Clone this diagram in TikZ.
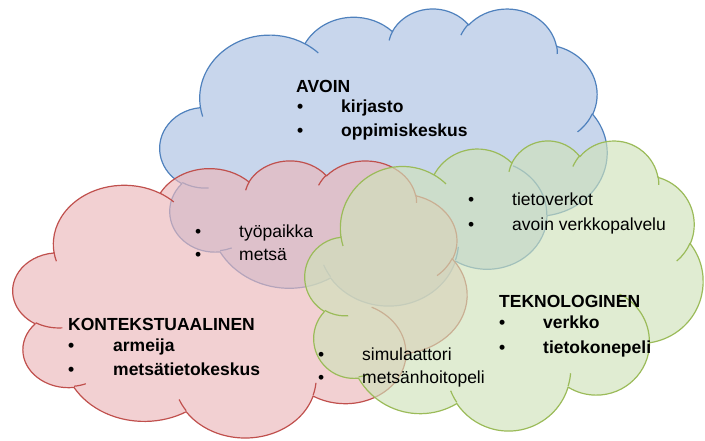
\documentclass[tikz,border=0pt]{standalone}
\usepackage{tikz}
\usepackage{fontspec}
\setmainfont{Liberation Sans}
\definecolor{avoinblue}{RGB}{79,129,189}
\definecolor{kontekstred}{RGB}{192,80,77}
\definecolor{teknogreen}{RGB}{155,187,89}
\definecolor{avoinfill}{RGB}{200,214,236}
\definecolor{kontekstfill}{RGB}{235,183,186}
\definecolor{teknofill}{RGB}{207,226,186}

% one arc of the cloud outline: name, x radius, y radius, start, sweep
\newcommand\defarc[5]{%
  \pgfmathsetmacro\arcsa{atan2(#2*sin(#4),#3*cos(#4))}%
  \pgfmathsetmacro\arcsb{atan2(#2*sin(#4+#5),#3*cos(#4+#5))}%
  \pgfmathsetmacro\arcsb{\arcsb<\arcsa ? \arcsb+360 : \arcsb}%
  \expandafter\xdef\csname pptarc#1\endcsname{arc[x radius=#2, y radius=#3, start angle=\arcsa, end angle=\arcsb]}%
}
\defarc{a}{6.753}{9.190}{-190.48748}{123.78053}
\defarc{b}{5.333}{7.267}{-144.10238}{89.94523}
\defarc{c}{4.365}{5.945}{-145.80792}{99.72302}
\defarc{d}{4.857}{6.595}{-130.98607}{117.24173}
\defarc{e}{5.333}{7.273}{-78.70888}{109.02692}
\defarc{f}{6.775}{9.220}{-46.26725}{130.26900}
\defarc{g}{5.785}{7.867}{0.62502}{114.03333}
\defarc{h}{6.752}{9.215}{22.45112}{115.17255}
\defarc{i}{7.720}{10.543}{66.24263}{75.71102}
\defarc{j}{4.360}{5.918}{-274.94208}{146.73557}
\defarc{k}{4.345}{5.945}{-246.82850}{152.51885}
% small inner curls
\defarc{ha}{4.345}{5.945}{86.7420}{26.4295}
\defarc{hb}{4.360}{5.918}{73.6105}{11.4475}
\defarc{hc}{6.752}{9.215}{137.6242}{14.0811}
\defarc{hd}{6.752}{9.215}{6.4533}{15.9984}
\defarc{he}{5.785}{7.867}{-70.2924}{70.9174}
\defarc{hf}{5.333}{7.273}{30.3180}{27.7515}
\defarc{hg}{4.857}{6.595}{-13.7443}{14.8589}
\defarc{hh}{4.857}{6.595}{-149.1815}{18.1954}
\defarc{hi}{4.365}{5.945}{-163.4943}{17.6864}
\defarc{hj}{6.753}{9.190}{-66.7070}{12.3194}
\defarc{hk}{6.753}{9.190}{157.6544}{11.8582}

\newcommand\cloudoutline{(3.9,14.37) \pptarca \pptarcb \pptarcc \pptarcd \pptarce \pptarcf
  \pptarcg \pptarch \pptarci \pptarcj \pptarck -- cycle}
\newcommand\cloudcurls{(4.693,26.177) \pptarcha (6.928,34.899) \pptarchb
  (16.478,39.090) \pptarchc (28.827,34.751) \pptarchd (34.129,22.954) \pptarche
  (41.798,15.354) \pptarchf (38.324,5.426) \pptarchg (29.078,3.952) \pptarchh
  (22.141,4.720) \pptarchi (14.000,5.192) \pptarchj (4.127,15.789) \pptarchk}

\begin{document}
\begin{tikzpicture}[
  x=1pt, y=-1pt,
  font=\fontsize{17.5}{21}\selectfont,
  puff/.style={line width=1.2pt, line join=round},
  head/.style={anchor=base west, inner sep=0pt, font=\fontsize{17.5}{21}\selectfont\bfseries},
  dot/.style={anchor=base west, inner sep=0pt},
  bdot/.style={dot, font=\fontsize{17.5}{21}\selectfont\bfseries},
  item/.style={anchor=base west, inner sep=0pt},
  bitem/.style={item, font=\fontsize{17.5}{21}\selectfont\bfseries},
]
\useasboundingbox (0,0) rectangle (705,441);

% --- Clouds ---
\begin{scope}[shift={(160,8)}, xscale=447/43.2, yscale=297/43.2]
  \filldraw[puff, draw=avoinblue, fill=avoinfill] \cloudoutline;
  \draw[puff, avoinblue] \cloudcurls;
\end{scope}
\begin{scope}[shift={(13,160)}, xscale=454/43.2, yscale=277/43.2]
  \filldraw[puff, draw=kontekstred, fill=kontekstfill, fill opacity=0.65] \cloudoutline;
  \draw[puff, kontekstred] \cloudcurls;
\end{scope}
\begin{scope}[shift={(305,140)}, xscale=398/43.2, yscale=290/43.2]
  \filldraw[puff, draw=teknogreen, fill=teknofill, fill opacity=0.65] \cloudoutline;
  \draw[puff, teknogreen] \cloudcurls;
\end{scope}

% --- AVOIN ---
\node[head] (avoinhead) at (296,93) {AVOIN};
\node[bdot] (d1) at (297,113) {•};
\node[bitem] (kirjasto) at (341,113) {kirjasto};
\node[bdot] (d2) at (297,137) {•};
\node[bitem] (oppimis) at (341,137) {oppimiskeskus};

% --- Overlaps ---
\node[dot] (d3) at (468,206) {•};
\node[item] (tietoverkot) at (512,206) {tietoverkot};
\node[dot] (d4) at (468,230) {•};
\node[item] (palvelu) at (512,230) {avoin verkkopalvelu};

\node[dot] (d5) at (195,237) {•};
\node[item] (tyopaikka) at (239,237) {työpaikka};
\node[dot] (d6) at (195,261) {•};
\node[item] (metsa) at (239,261) {metsä};

\node[dot] (d7) at (318,360) {•};
\node[item] (simulaattori) at (362,360) {simulaattori};
\node[dot] (d8) at (318,383) {•};
\node[item] (hoitopeli) at (362,383) {metsänhoitopeli};

% --- TEKNOLOGINEN ---
\node[head] (teknohead) at (499,307) {TEKNOLOGINEN};
\node[bdot] (d9) at (499,328) {•};
\node[bitem] (verkko) at (543,328) {verkko};
\node[bdot] (d10) at (499,353) {•};
\node[bitem] (tietokonepeli) at (543,353) {tietokonepeli};

% --- KONTEKSTUAALINEN ---
\node[head] (kontekstihead) at (68,330) {KONTEKSTUAALINEN};
\node[bdot] (d11) at (68,351) {•};
\node[bitem] (armeija) at (113,351) {armeija};
\node[bdot] (d12) at (68,375) {•};
\node[bitem] (tietokeskus) at (113,375) {metsätietokeskus};

\end{tikzpicture}
\end{document}
